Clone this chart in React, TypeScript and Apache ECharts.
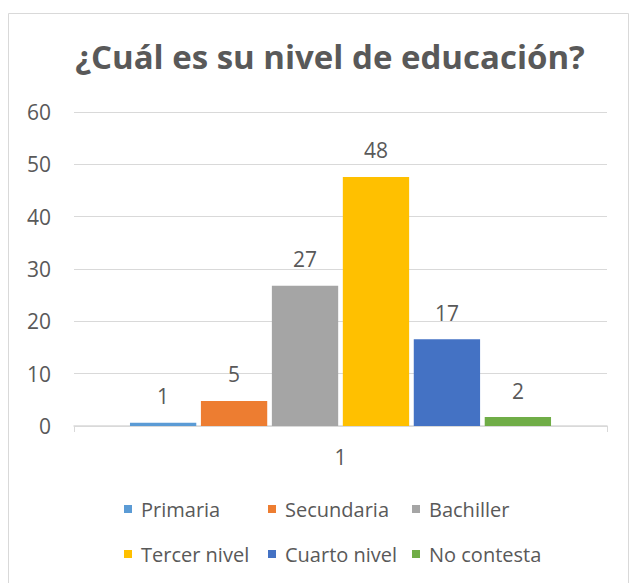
import React, { useEffect, useRef } from "react";
import * as echarts from "echarts";

const categories = ["1"];
const seriesNames = ["Primaria", "Secundaria", "Bachiller", "Tercer nivel", "Cuarto nivel", "No contesta"];
const seriesValues = [0.6, 4.8, 26.8, 47.6, 16.6, 1.7];
const seriesColors = ["#5B9BD5", "#ED7D31", "#A5A5A5", "#FFC000", "#4472C4", "#70AD47"];
const yTicks = [0, 10, 20, 30, 40, 50, 60];

const FONT = "'Open Sans', 'Noto Sans', sans-serif";
const TXT = "#595959";

export default function App() {
  const ref = useRef<HTMLDivElement>(null);
  useEffect(() => {
    if (!ref.current) return;
    const chart = echarts.init(ref.current, undefined, { renderer: "svg" });
    const legendPos = [
      [124, 499], [268, 499], [412, 499],
      [124, 544], [268, 544], [412, 544],
    ];
    chart.setOption({
      animation: false,
      backgroundColor: "#ffffff",
      textStyle: { fontFamily: FONT },
      title: {
        text: "¿Cuál es su nivel de educación?",
        left: 325,
        textAlign: "center",
        top: 35,
        textStyle: { fontFamily: FONT, fontSize: 33, fontWeight: "bold", color: TXT },
      },
      graphic: [
        {
          type: "rect",
          shape: { x: 8.5, y: 13.5, width: 620, height: 600 },
          style: { fill: "none", stroke: "#D9D9D9", lineWidth: 1 },
          silent: true,
        },
      ],
      legend: seriesNames.map((n, i) => ({
        data: [n],
        left: legendPos[i][0],
        top: legendPos[i][1],
        itemWidth: 8,
        itemHeight: 8,
        itemGap: 6,
        icon: "rect",
        padding: 0,
        textStyle: { fontFamily: FONT, fontSize: 20, color: TXT, padding: [0, 0, 0, 4] },
      })),
      grid: { left: 74, right: 30, top: 112, bottom: 157, containLabel: false },
      xAxis: {
        type: "category",
        data: categories,
        axisLine: { lineStyle: { color: "#D9D9D9", width: 1.5 } },
        axisTick: { show: true, length: 6, lineStyle: { color: "#D9D9D9" } },
        axisLabel: { fontFamily: FONT, fontSize: 21, color: TXT, margin: 20 },
      },
      yAxis: {
        type: "value",
        min: yTicks[0],
        max: yTicks[yTicks.length - 1],
        interval: 10,
        axisLine: { show: false },
        axisTick: { show: false },
        splitLine: { lineStyle: { color: "#D9D9D9", width: 1.2 } },
        axisLabel: { fontFamily: FONT, fontSize: 21, color: TXT, margin: 23 },
      },
      series: seriesNames.map((n, i) => ({
        type: "bar",
        name: n,
        data: [seriesValues[i]],
        barGap: "7%",
        barCategoryGap: "21%",
        itemStyle: { color: seriesColors[i] },
        label: {
          show: true,
          position: "top",
          distance: 16,
          fontFamily: FONT,
          fontSize: 21,
          color: TXT,
          formatter: (p: any) => String(Math.round(p.value)),
        },
      })),
    });
    return () => chart.dispose();
  }, []);
  return (
    <div
      ref={ref}
      style={{ position: "absolute", left: 0, top: 0, width: 637, height: 583 }}
    />
  );
}
